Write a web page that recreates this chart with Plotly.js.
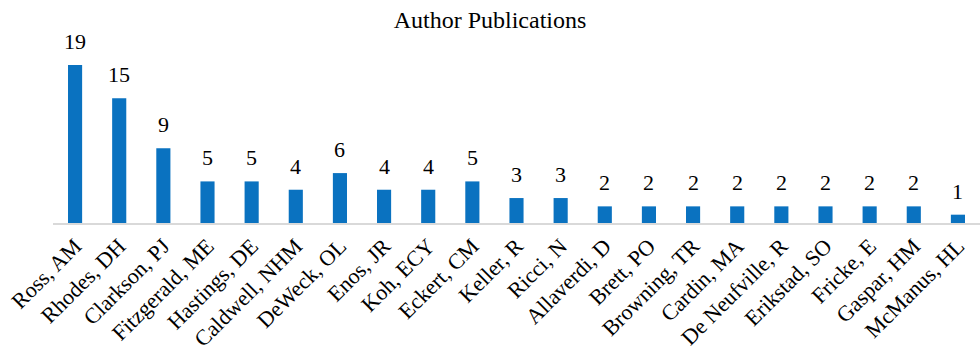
<!DOCTYPE html>
<html>
<head>
<meta charset="utf-8">
<script src="https://cdn.plot.ly/plotly-3.0.1.min.js"></script>
<style>
  html, body { margin: 0; padding: 0; background: #fff; }
  #chart { width: 980px; height: 350px; }
</style>
</head>
<body>
<div id="chart"></div>
<script>
// Publication counts per author
const authors = [
  "Ross, AM", "Rhodes, DH", "Clarkson, PJ", "Fitzgerald, ME", "Hastings, DE",
  "Caldwell, NHM", "DeWeck, OL", "Enos, JR", "Koh, ECY", "Eckert, CM",
  "Keller, R", "Ricci, N", "Allaverdi, D", "Brett, PO", "Browning, TR",
  "Cardin, MA", "De Neufville, R", "Erikstad, SO", "Fricke, E", "Gaspar, HM",
  "McManus, HL"
];
const publications = [19, 15, 9, 5, 5, 4, 6, 4, 4, 5, 3, 3, 2, 2, 2, 2, 2, 2, 2, 2, 1];

const serif = "Liberation Serif";

const bars = {
  type: "bar",
  x: authors,
  y: publications,
  marker: { color: "#0A72C0" },
  hoverinfo: "x+y"
};

// Value labels sit a little above each bar
const valueLabels = authors.map((a, i) => ({
  x: a,
  y: publications[i],
  text: String(publications[i]),
  showarrow: false,
  yanchor: "bottom",
  yshift: 9,
  font: { family: serif, size: 22, color: "#000" }
}));

const layout = {
  width: 980,
  height: 350,
  margin: { l: 53, r: 0, t: 40, b: 127 },
  paper_bgcolor: "#fff",
  plot_bgcolor: "#fff",
  font: { family: serif, color: "#000" },
  title: {
    text: "Author Publications",
    font: { family: serif, size: 24, color: "#000" },
    x: 0.5,
    xanchor: "center",
    y: 0.945,
    yanchor: "middle"
  },
  bargap: 0.68,
  showlegend: false,
  xaxis: {
    type: "category",
    tickangle: -45,
    showline: true,
    linecolor: "#d9d9d9",
    linewidth: 1.5,
    ticks: "",
    showgrid: false,
    tickfont: { family: serif, size: 22, color: "#000" }
  },
  yaxis: {
    range: [0, 22.0],
    visible: false,
    showgrid: false,
    zeroline: false
  },
  annotations: valueLabels
};

Plotly.newPlot("chart", [bars], layout, { displayModeBar: false, staticPlot: true });
</script>
</body>
</html>
